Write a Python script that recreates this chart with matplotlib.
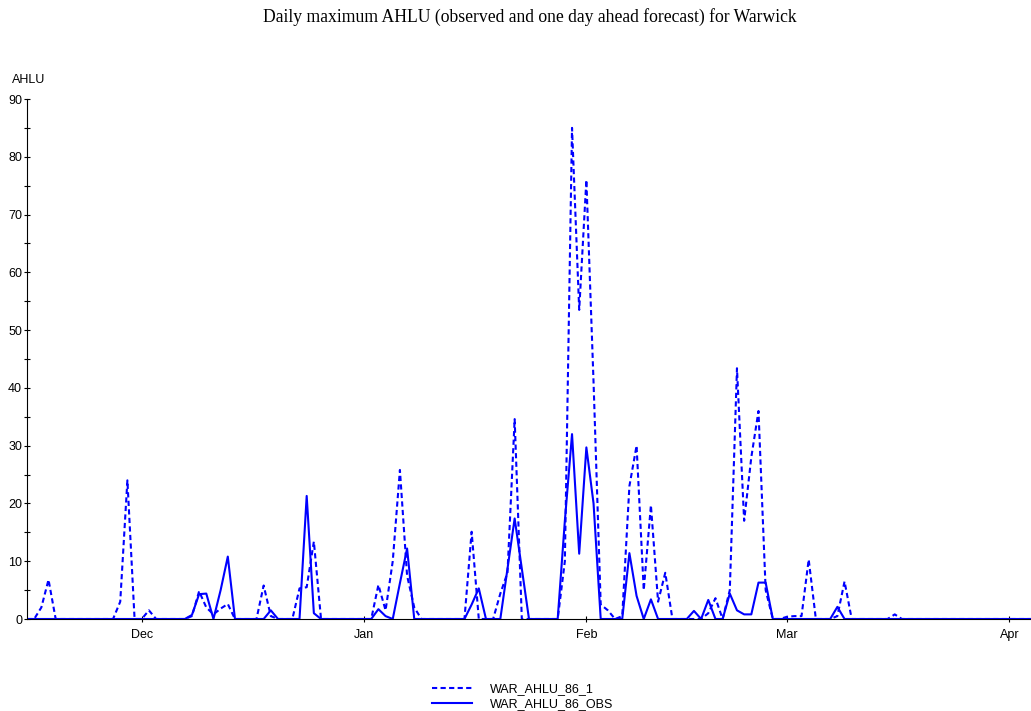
#!/usr/bin/env python

import numpy as np
import pandas as pd
import matplotlib
matplotlib.use("Agg")
import matplotlib.pyplot as plt
import matplotlib.dates as mdates

#daily values, 15 Nov to 4 Apr (one row = one week)
forecast = [
    0, 0, 2, 6.8, 0, 0, 0,
    0, 0, 0, 0, 0, 0, 3,
    24, 0, 0, 1.5, 0, 0, 0,
    0, 0, 0.5, 4.8, 2, 0.8, 1.8,
    2.6, 0, 0, 0, 0, 5.8, 0.5,
    0, 0, 0, 5.3, 5.5, 13.4, 0,
    0, 0, 0, 0, 0, 0, 0,
    5.9, 1.5, 10, 25.8, 7.5, 2, 0,
    0, 0, 0, 0, 0, 0, 15.1,
    0, 0, 0, 4.4, 8, 34.6, 0,
    0, 0, 0, 0, 0, 10, 85,
    53.5, 76, 41, 2.5, 1.5, 0, 0.5,
    23, 30, 5, 19.7, 3, 8, 0,
    0, 0, 0, 0, 1, 3.6, 0,
    5, 43.4, 17, 28, 36, 5, 0,
    0, 0.4, 0.5, 0.5, 10.3, 0, 0,
    0, 0.5, 6.5, 0, 0, 0, 0,
    0, 0, 0.8, 0, 0, 0, 0,
    0, 0, 0, 0, 0, 0, 0,
    0, 0, 0, 0, 0, 0, 0,
    0,
]
observed = [
    0, 0, 0, 0, 0, 0, 0,
    0, 0, 0, 0, 0, 0, 0,
    0, 0, 0, 0, 0, 0, 0,
    0, 0, 0.7, 4.3, 4.4, 0, 5,
    10.8, 0, 0, 0, 0, 0, 1.5,
    0, 0, 0, 0, 21.3, 1, 0,
    0, 0, 0, 0, 0, 0, 0,
    1.7, 0.5, 0, 6.2, 12.2, 0, 0,
    0, 0, 0, 0, 0, 0, 2.5,
    5.3, 0, 0, 0, 8.7, 17.4, 8.7,
    0, 0, 0, 0, 0, 17, 32,
    11.3, 29.7, 20, 0, 0, 0, 0,
    11.4, 4, 0, 3.4, 0, 0, 0,
    0, 0, 1.4, 0, 3.3, 0, 0,
    4.4, 1.5, 0.8, 0.8, 6.3, 6.3, 0,
    0, 0, 0, 0, 0, 0, 0,
    0, 2.1, 0, 0, 0, 0, 0,
    0, 0, 0, 0, 0, 0, 0,
    0, 0, 0, 0, 0, 0, 0,
    0, 0, 0, 0, 0, 0, 0,
    0,
]
dates = pd.date_range("2018-11-15", periods=len(forecast), freq="D")

title = "Daily maximum AHLU (observed and one day ahead forecast) for Warwick"
labels = ["WAR_AHLU_86_1", "WAR_AHLU_86_OBS"]

plt.rcParams['font.family'] = ['Liberation Sans', 'DejaVu Sans']

fig = plt.figure(figsize=(10.31, 7.11), dpi=100)
ax = fig.add_axes([27/1031, 92/711, 1004/1031, 520/711])

ax.plot(dates, forecast, color='#0000ff', lw=1.5, dashes=(2.5, 1.6), label=labels[0])
ax.plot(dates, observed, color='#0000ff', lw=1.5, label=labels[1])

ax.set_xlim(dates[0], dates[-1])
ax.set_ylim(0, 90)
ax.set_yticks(np.arange(0, 91, 10))
ax.set_yticks(np.arange(5, 90, 10), minor=True)
ax.xaxis.set_major_locator(mdates.MonthLocator())
ax.xaxis.set_major_formatter(mdates.DateFormatter("%b"))

for s in ['top', 'right']:
    ax.spines[s].set_visible(False)
ax.spines['left'].set_linewidth(0.8)
ax.spines['bottom'].set_linewidth(0.8)
ax.tick_params(axis='both', which='both', direction='inout', width=0.8, labelsize=9)
ax.tick_params(axis='y', which='major', length=5, pad=1)
ax.tick_params(axis='y', which='minor', length=5)
ax.tick_params(axis='x', which='major', length=5, pad=4.5)

fig.text(0.514, 1 - 17/711, title, ha='center', va='center',
         family='Liberation Serif', fontsize=12.7)
fig.text(12/1031, 1 - 80/711, "AHLU", ha='left', va='center', fontsize=9)

fig.legend(loc='center', bbox_to_anchor=(0.507, 14/711), frameon=False,
           fontsize=9, handlelength=3.2, handletextpad=1.5, labelspacing=0.25)

fig.savefig("out.png", dpi=100)
